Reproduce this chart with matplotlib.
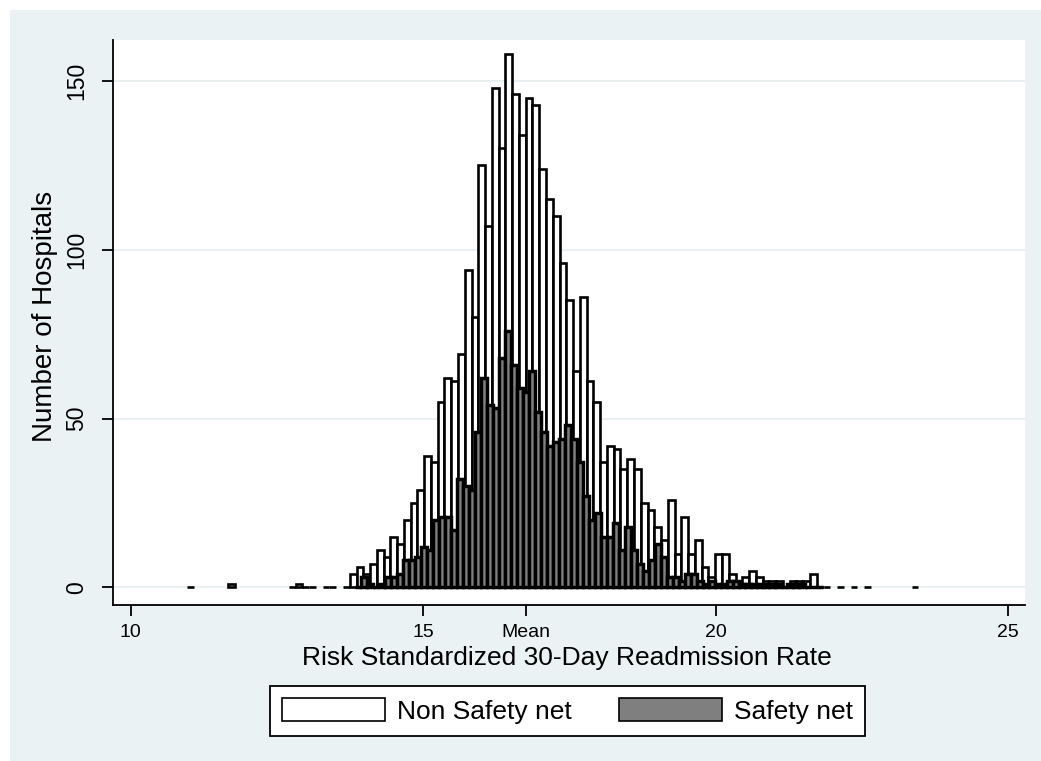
import numpy as np
import matplotlib
matplotlib.use("Agg")
import matplotlib.pyplot as plt
from matplotlib.patches import Rectangle, Patch

#==============================================================================
# Data ========================================================================
#==============================================================================

nan = np.nan

# Non safety net hospitals : bin start (centre of 1st bin), bin width, counts
# nan = no bar drawn, 0 = empty bin drawn as a flat bar
white_start = 11.028
white_width = 0.1157
white_counts = [0, nan, nan, nan, nan, nan, 1, nan, nan, nan,
                nan, nan, nan, nan, nan, 0, 1, 0, 0, nan,
                0, 0, nan, 0, 4, 6, 4, 7, 11, 9,
                15, 13, 20, 25, 29, 39, 37, 55, 62, 61,
                69, 94, 80, 125, 107, 148, 130, 158, 146, 134,
                145, 143, 124, 115, 110, 96, 85, 64, 86, 61,
                55, 37, 42, 41, 35, 38, 35, 25, 23, 18,
                14, 26, 10, 21, 10, 14, 6, 3, 10, 10,
                4, 2, 3, 5, 3, 2, 2, 2, 0, 2,
                2, 2, 4, 0, 0, nan, 0, nan, 0, nan,
                0, nan, nan, nan, nan, nan, nan, 0]

# Safety net hospitals
gray_start = 13.888
gray_width = 0.1026
gray_counts = [0, 3, 1, 0, 1, 3, 3, 4, 8, 8,
               9, 12, 11, 20, 21, 21, 17, 32, 30, 29,
               46, 62, 54, 53, 68, 76, 66, 59, 58, 64,
               52, 46, 42, 43, 44, 48, 44, 37, 27, 20,
               22, 15, 15, 19, 11, 18, 11, 7, 5, 8,
               13, 9, 3, 3, 2, 4, 4, 2, 1, 2,
               1, 1, 2, 2, 1, 1, 1, 1, 1, 1,
               1, 0, 1, 1, 1, 0, 0, 0]

mean_rate = 16.76
xtick_values = [10, 15, mean_rate, 20, 25]
xtick_labels = ['10', '15', 'Mean', '20', '25']
ytick_values = [0, 50, 100, 150]
series_names = ['Non Safety net', 'Safety net']

#==============================================================================
# Style =======================================================================
#==============================================================================

plt.rcParams['font.family'] = ['Liberation Sans', 'DejaVu Sans']
bg = '#EAF2F3'
grey_fill = '#7F7F7F'
W, H = 1041, 761

fig = plt.figure(figsize=(W / 100, H / 100), dpi=100, facecolor='white')
# light bluish outer region (thin white strip left and top)
fig.add_artist(Rectangle((10 / W, 0), 1, 1 - 10 / H, transform=fig.transFigure,
                         facecolor=bg, edgecolor='none', zorder=-10))

ax = fig.add_axes([113 / W, 1 - 605 / H, (1025 - 113) / W, (605 - 40) / H])
ax.set_facecolor('white')

#==============================================================================
# Bars ========================================================================
#==============================================================================

def draw_hist(start, width, counts, color, lw, z):
    counts = np.array(counts, dtype=float)
    x = start + width * np.arange(len(counts))
    keep = ~np.isnan(counts)
    ax.bar(x[keep], counts[keep], width=width, color=color,
           edgecolor='black', linewidth=lw, zorder=z)

# the safety net bars look much darker (heavy outlines on narrow bins)
draw_hist(white_start, white_width, white_counts, 'white', 1.9, 2)
draw_hist(gray_start, gray_width, gray_counts, grey_fill, 2.5, 3)

#==============================================================================
# Axes ========================================================================
#==============================================================================

ax.set_xlim(9.70, 25.29)
ax.set_ylim(-5.2, 162.1)

for v in ytick_values:
    ax.axhline(v, color='#E4EEEF', linewidth=1.2, zorder=1)

ax.spines['top'].set_visible(False)
ax.spines['right'].set_visible(False)
ax.spines['left'].set_linewidth(1.3)
ax.spines['bottom'].set_linewidth(1.3)

ax.set_xticks(xtick_values)
ax.set_xticklabels(xtick_labels)
ax.set_yticks(ytick_values)
ax.set_yticklabels([str(v) for v in ytick_values], rotation=90, va='center')
ax.tick_params(axis='both', length=8, width=1.3, colors='black')
ax.tick_params(axis='x', pad=6, labelsize=14)
ax.tick_params(axis='y', pad=10, labelsize=16.5)

ax.set_xlabel('Risk Standardized 30-Day Readmission Rate', fontsize=19)
ax.xaxis.set_label_coords(0.498, -0.072)
ax.set_ylabel('Number of Hospitals', fontsize=20)
ax.yaxis.set_label_coords(-0.06, 0.51)

#==============================================================================
# Legend ======================================================================
#==============================================================================

handles = [Patch(facecolor='white', edgecolor='black', linewidth=1.2),
           Patch(facecolor=grey_fill, edgecolor='black', linewidth=1.2)]
leg = fig.legend(handles, series_names, loc='center', ncol=2,
                 bbox_to_anchor=(567.5 / W, 1 - 711 / H), fontsize=19,
                 frameon=True, fancybox=False, edgecolor='black', framealpha=1,
                 handlelength=3.9, handleheight=0.95, handletextpad=0.45,
                 columnspacing=1.8, borderpad=0.45)
leg.get_frame().set_linewidth(1.3)
leg.get_frame().set_facecolor('white')

fig.savefig('out.png', dpi=100, facecolor=fig.get_facecolor())
